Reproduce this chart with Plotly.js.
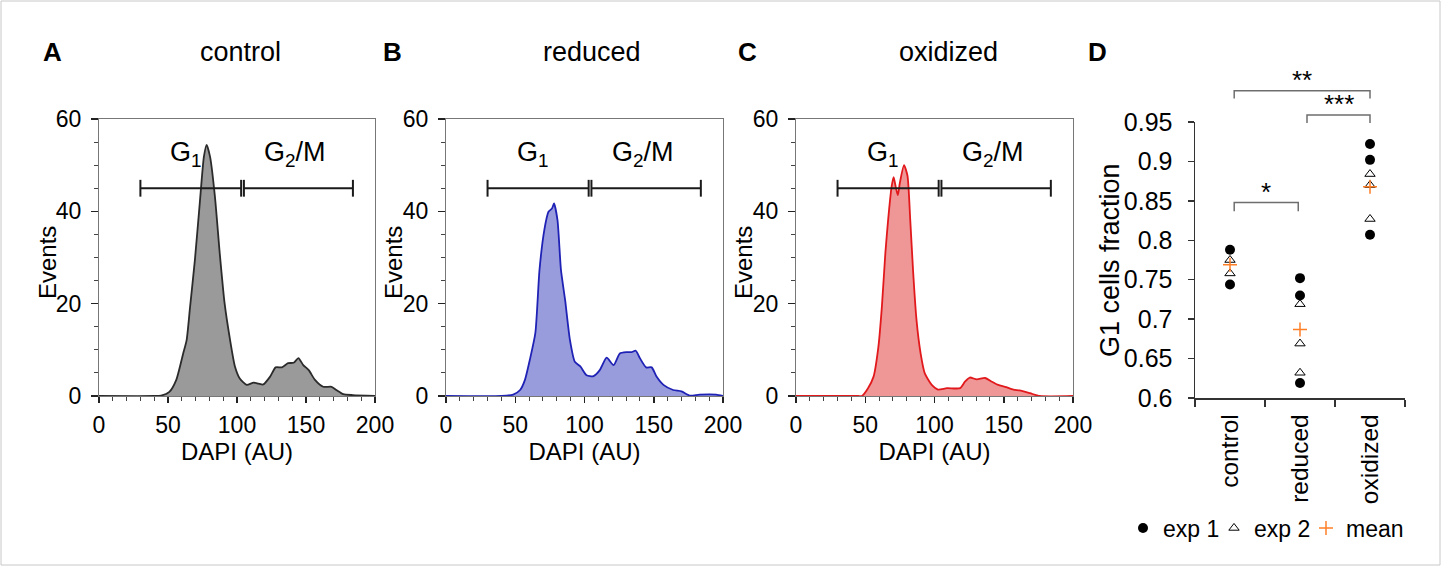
<!DOCTYPE html>
<html>
<head>
<meta charset="utf-8">
<script src="https://cdn.plot.ly/plotly-3.0.1.min.js"></script>
<style>html,body{margin:0;padding:0;background:#fff;}#chart{width:1442px;height:567px;}</style>
</head>
<body>
<div id="chart"></div>
<script>
// ---------- DATA ----------
// Panel A: control histogram (DAPI AU vs events)
const ctrlX = [0, 40, 45, 51, 56, 61, 63.5, 66, 69.5, 73, 76, 78, 80.5, 84, 87.5, 91, 95, 98.5, 102, 107, 112, 115.5, 119, 124, 128, 132.5, 137, 141, 144.5, 148, 152, 156.5, 162.5, 168.5, 172, 177, 184, 200];
const ctrlY = [0, 0, 0.1, 0.9, 3.5, 9.2, 12.1, 19.3, 29.5, 41.7, 51.8, 54.4, 51.8, 43.2, 30.9, 20.1, 12.1, 6.4, 3.8, 2.4, 2.9, 2.7, 2.5, 4.2, 6.2, 6.2, 7.1, 7.2, 8.2, 6.7, 5.6, 3.5, 2.0, 2.0, 1.3, 0.4, 0.2, 0];
// Panel B: reduced histogram
const redX = [0, 40, 48.5, 53.5, 57, 60.5, 64.5, 67.5, 71, 74, 76.5, 78, 80.5, 83, 86, 89.5, 93, 97, 101.5, 106.5, 111, 116, 121, 125.5, 130.5, 134, 137, 140, 144.5, 148.5, 152, 157, 164, 170, 176, 183, 195, 200];
const redY = [0, 0, 0.3, 1.3, 3.5, 7.8, 13.6, 27.3, 36.0, 39.9, 40.6, 41.7, 38.1, 27.3, 20.8, 12.1, 7.4, 6.4, 4.5, 4.3, 5.6, 8.3, 6.7, 9.2, 9.5, 9.5, 9.8, 8.2, 6.2, 6.2, 4.2, 2.4, 1.3, 1.0, 0.1, 0.3, 0.3, 0];
// Panel C: oxidized histogram
const oxX = [0, 45, 47.5, 52, 56, 59.5, 62, 64.5, 66.5, 69, 70.5, 72, 73.5, 75, 78, 80.5, 82.5, 84.5, 87, 90, 93, 98, 102.5, 109, 118.5, 122, 125.5, 130.5, 136.5, 141.5, 146, 151, 157, 161.5, 169, 176, 200];
const oxY = [0, 0, 0, 1.7, 4.2, 10.7, 19.3, 30.9, 38.1, 45.3, 47.4, 45.3, 43.5, 46.2, 50.0, 47.7, 38.1, 27.3, 16.5, 9.2, 4.9, 2.4, 1.4, 1.7, 1.7, 3.1, 4.0, 3.6, 3.9, 3.1, 2.4, 2.0, 1.4, 1.2, 0.6, 0, 0];
// Gates
const gateG1 = [30, 103];
const gateG2 = [105, 184];
const gateLevel = 45;

// Panel D: G1 cells fraction
const categories = ['control', 'reduced', 'oxidized'];
const exp1 = [[0.788, 0.744], [0.752, 0.730, 0.619], [0.922, 0.902, 0.807]];
const exp2 = [[0.775, 0.758], [0.719, 0.669, 0.632], [0.884, 0.870, 0.827]];
const meanVals = [0.769, 0.687, 0.868];
const dTickVals = [0.6, 0.65, 0.7, 0.75, 0.8, 0.85, 0.9, 0.95];
const dTickText = ['0.6', '0.65', '0.7', '0.75', '0.8', '0.85', '0.9', '0.95'];
// significance brackets: [x left, x right, y top, y leg bottom, label]
const sigBrackets = [
  [0.06, 2.0, 0.990, 0.980, '**'],
  [1.10, 2.0, 0.959, 0.949, '***'],
  [0.06, 0.975, 0.848, 0.837, '*']
];

// ---------- LAYOUT HELPERS ----------
const W = 1442, H = 567;
const dx = (a, b) => [a / W, b / W];
const dy = (top, bottom) => [1 - bottom / H, 1 - top / H];
const FONT = 'Liberation Sans, Arial, Helvetica, sans-serif';

const histPanels = [
  {x: ctrlX, y: ctrlY, line: '#2b2b2b', fill: '#9a9a9a', xa: 'x', ya: 'y'},
  {x: redX, y: redY, line: '#1f22b4', fill: '#989cdd', xa: 'x2', ya: 'y2'},
  {x: oxX, y: oxY, line: '#e2191c', fill: '#ef9696', xa: 'x3', ya: 'y3'}
];

const traces = [];
histPanels.forEach(p => {
  traces.push({
    x: p.x, y: p.y, xaxis: p.xa, yaxis: p.ya, type: 'scatter', mode: 'lines',
    line: {color: p.line, width: 1.8, shape: 'spline', smoothing: 0.6},
    fill: 'tozeroy', fillcolor: p.fill, showlegend: false, hoverinfo: 'skip'
  });
  [gateG1, gateG2].forEach(g => {
    traces.push({
      x: g, y: [gateLevel, gateLevel], xaxis: p.xa, yaxis: p.ya, type: 'scatter',
      mode: 'lines+markers', line: {color: '#1a1a1a', width: 2},
      marker: {symbol: 'line-ns-open', size: 12, line: {color: '#1a1a1a', width: 2}},
      showlegend: false, hoverinfo: 'skip', cliponaxis: false
    });
  });
});

// Panel D points
function flatten(groups) {
  const xs = [], ys = [];
  groups.forEach((g, i) => g.forEach(v => { xs.push(i); ys.push(v); }));
  return {xs, ys};
}
const e1 = flatten(exp1), e2 = flatten(exp2);
traces.push({
  x: e1.xs, y: e1.ys, xaxis: 'x4', yaxis: 'y4', type: 'scatter', mode: 'markers', name: 'exp 1', legend: 'legend',
  marker: {symbol: 'circle', size: 10, color: '#000'}
});
traces.push({
  x: e2.xs, y: e2.ys, xaxis: 'x4', yaxis: 'y4', type: 'scatter', mode: 'markers', name: 'exp 2', legend: 'legend2',
  marker: {symbol: 'triangle-up-open', size: 9, color: '#000', line: {color: '#000', width: 1}}
});
traces.push({
  x: categories.map((c, i) => i), y: meanVals, xaxis: 'x4', yaxis: 'y4', type: 'scatter', mode: 'markers', name: 'mean', legend: 'legend3',
  marker: {symbol: 'cross-thin-open', size: 10, color: '#ff7f27', line: {color: '#ff7f27', width: 1.5}}
});
// brackets on hidden overlay axes
sigBrackets.forEach(b => {
  traces.push({
    x: [b[0], b[0], b[1], b[1]], y: [b[3], b[2], b[2], b[3]], xaxis: 'x5', yaxis: 'y5',
    type: 'scatter', mode: 'lines', line: {color: '#6e6e6e', width: 1.5},
    showlegend: false, hoverinfo: 'skip'
  });
});

const histX = (dom) => ({
  domain: dom, range: [0, 200], showline: true, mirror: true, linecolor: '#777', linewidth: 1,
  zeroline: false, showgrid: false, ticks: 'outside', ticklen: 6, tickwidth: 1.5, tickcolor: '#222',
  tickmode: 'array', tickvals: [0, 50, 100, 150, 200],
  minor: {ticks: 'outside', ticklen: 3.5, tickwidth: 1, tickcolor: '#444', dtick: 10, tick0: 0, showgrid: false},
  tickfont: {size: 23, color: '#000', family: FONT}, ticklabelstandoff: 2,
  title: {text: 'DAPI (AU)', font: {size: 24, color: '#000', family: FONT}, standoff: 3},
  fixedrange: true
});
const histY = (dom, anchor) => ({
  domain: dom, range: [0, 60], showline: true, mirror: true, linecolor: '#777', linewidth: 1,
  zeroline: false, showgrid: false, ticks: 'outside', ticklen: 7, tickwidth: 1.5, tickcolor: '#222',
  tickmode: 'array', tickvals: [0, 20, 40, 60],
  minor: {ticks: 'outside', ticklen: 4, tickwidth: 1, tickcolor: '#444', dtick: 5, tick0: 0, showgrid: false},
  tickfont: {size: 23, color: '#000', family: FONT}, ticklabelstandoff: 5,
  anchor: anchor, fixedrange: true
});

const yDom = dy(119, 396);
const annotations = [];
const letters = [['A', 52], ['B', 392], ['C', 747], ['D', 1097]];
letters.forEach(l => annotations.push({
  text: '<b>' + l[0] + '</b>', xref: 'paper', yref: 'paper', x: l[1] / W, y: 1 - 52 / H,
  xanchor: 'center', yanchor: 'middle', showarrow: false, font: {size: 26, color: '#000', family: FONT}
}));
const ptitles = [['control', 240], ['reduced', 592], ['oxidized', 948]];
ptitles.forEach(t => annotations.push({
  text: t[0], xref: 'paper', yref: 'paper', x: t[1] / W, y: 1 - 52 / H,
  xanchor: 'center', yanchor: 'middle', showarrow: false, font: {size: 27, color: '#000', family: FONT}
}));
[47, 393, 743].forEach(px => annotations.push({
  text: 'Events', xref: 'paper', yref: 'paper', x: px / W, y: 1 - 263 / H, textangle: -90,
  xanchor: 'center', yanchor: 'middle', showarrow: false, font: {size: 24, color: '#000', family: FONT}
}));
['x', 'x2', 'x3'].forEach((xa, i) => {
  const ya = ['y', 'y2', 'y3'][i];
  annotations.push({text: 'G<sub>1</sub>', xref: xa, yref: ya, x: 63, y: 52.5, showarrow: false,
    xanchor: 'center', yanchor: 'middle', font: {size: 27, color: '#000', family: FONT}});
  annotations.push({text: 'G<sub>2</sub>/M', xref: xa, yref: ya, x: 142, y: 52.5, showarrow: false,
    xanchor: 'center', yanchor: 'middle', font: {size: 27, color: '#000', family: FONT}});
});
annotations.push({text: 'G1 cells fraction', xref: 'paper', yref: 'paper', x: 1110 / W, y: 1 - 260 / H,
  textangle: -90, showarrow: false, xanchor: 'center', yanchor: 'middle', font: {size: 27, color: '#000', family: FONT}});
sigBrackets.forEach(b => annotations.push({
  text: b[4], xref: 'x5', yref: 'y5', x: (b[0] + b[1]) / 2, y: b[2], yanchor: 'bottom', xanchor: 'center',
  showarrow: false, yshift: -6, font: {size: 26, color: '#000', family: FONT}
}));

const legendStyle = (px) => ({
  orientation: 'h', x: px / W, y: 1 - 528 / H, xanchor: 'left', yanchor: 'middle',
  font: {size: 23, color: '#000', family: FONT}, itemwidth: 30, bgcolor: 'rgba(0,0,0,0)', borderwidth: 0
});

const layout = {
  width: W, height: H, margin: {l: 0, r: 0, t: 0, b: 0, autoexpand: false},
  paper_bgcolor: '#fff', plot_bgcolor: 'rgba(0,0,0,0)',
  font: {family: FONT, color: '#000'},
  xaxis: Object.assign(histX(dx(99, 375)), {anchor: 'y'}),
  yaxis: histY(yDom, 'x'),
  xaxis2: Object.assign(histX(dx(446, 723)), {anchor: 'y2'}),
  yaxis2: histY(yDom, 'x2'),
  xaxis3: Object.assign(histX(dx(796, 1073)), {anchor: 'y3'}),
  yaxis3: histY(yDom, 'x3'),
  xaxis4: {
    domain: dx(1195, 1405), range: [-0.5, 2.5], anchor: 'y4', showline: true, linecolor: '#333', linewidth: 1.5,
    zeroline: false, showgrid: false, tickmode: 'array', tickvals: [0, 1, 2], ticktext: categories,
    ticks: '', tickangle: -90, ticklabelstandoff: 5,
    minor: {tickmode: 'array', tickvals: [-0.5, 0.5, 1.5, 2.5], ticks: 'outside', ticklen: 7, tickwidth: 1.5, tickcolor: '#333', showgrid: false},
    tickfont: {size: 24.5, color: '#000', family: FONT}, fixedrange: true
  },
  yaxis4: {
    domain: dy(122, 398), range: [0.6, 0.95], anchor: 'x4', showline: true, linecolor: '#333', linewidth: 1.5,
    zeroline: false, showgrid: false, tickmode: 'array', tickvals: dTickVals, ticktext: dTickText,
    ticks: 'outside', ticklen: 6, tickwidth: 1.5, tickcolor: '#333', ticklabelstandoff: 10,
    tickfont: {size: 25, color: '#000', family: FONT}, fixedrange: true
  },
  xaxis5: {domain: dx(1195, 1405), range: [-0.5, 2.5], anchor: 'y5', visible: false, fixedrange: true},
  yaxis5: {domain: dy(82.8, 398), range: [0.6, 1.0], anchor: 'x5', visible: false, fixedrange: true},
  showlegend: true,
  legend: legendStyle(1123),
  legend2: legendStyle(1214),
  legend3: legendStyle(1306),
  annotations: annotations,
  shapes: [{type: 'rect', xref: 'paper', yref: 'paper', x0: 1 / W, x1: 1 - 2 / W, y0: 2 / H, y1: 1 - 1 / H,
    line: {color: '#c8c8c8', width: 1}, fillcolor: 'rgba(0,0,0,0)', layer: 'below'}]
};

Plotly.newPlot('chart', traces, layout, {displayModeBar: false, staticPlot: true});
</script>
</body>
</html>
